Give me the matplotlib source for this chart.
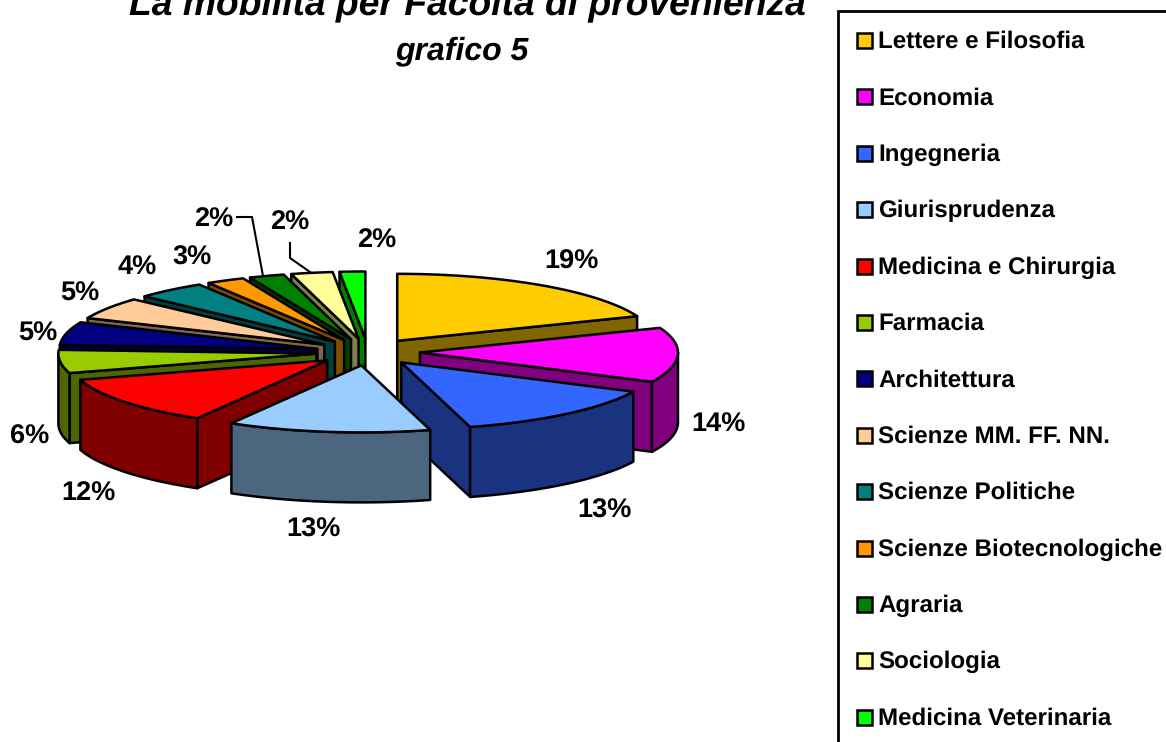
# plot.py
# Torta 3D esplosa "La mobilita per Facolta di provenienza", disegnata a mano
# con poligoni perche matplotlib non ha un vero pie 3D.

import numpy as np
import matplotlib
matplotlib.use("Agg")
import matplotlib.pyplot as plt
from matplotlib.patches import Rectangle

plt.rcParams["text.hinting"] = "no_hinting"

facolta = ["Lettere e Filosofia", "Economia", "Ingegneria", "Giurisprudenza",
           "Medicina e Chirurgia", "Farmacia", "Architettura",
           "Scienze MM. FF. NN.", "Scienze Politiche", "Scienze Biotecnologiche",
           "Agraria", "Sociologia", "Medicina Veterinaria"]
# ampiezze stimate dal disegno, le etichette sono quelle stampate sul grafico
valori = [19, 13.2, 13.5, 12.7, 11.9, 5.6, 5.6, 5.3, 4.4, 2.4, 2.2, 2.6, 1.6]
etichette = ["19%", "14%", "13%", "13%", "12%", "6%", "5%", "5%", "4%", "3%", "2%", "2%", "2%"]

colori = ["#FFCC00", "#FF00FF", "#3366FF", "#99CCFF", "#FF0000", "#99CC00", "#000080",
          "#FFCC99", "#008080", "#FF9900", "#008000", "#FFFF99", "#00FF00"]
colori_lato = ["#806600", "#800080", "#1A3380", "#4D6680", "#800000", "#4D6600", "#000040",
               "#806650", "#004040", "#804D00", "#004000", "#80804D", "#008000"]

# centro delle etichette percentuali, in pixel
pos_etichette = [(571, 262), (718, 425), (604, 511), (313, 530), (88, 494), (30, 437),
                 (38, 334), (80, 294), (137, 268), (192, 258), (214, 220), (290, 223),
                 (377, 241)]

# geometria della torta, in pixel
CX, CY = 368, 352
RX, RY = 258, 67
ESPLOSO = 52
SPESSORE = 70

fig = plt.figure(figsize=(11.66, 7.42), dpi=100)
ax = fig.add_axes([0, 0, 1, 1])
ax.set_xlim(0, 1166)
ax.set_ylim(742, 0)
ax.axis("off")

FONT = "Liberation Sans"


def bordo(x0, y0, t):
    # t in radianti, in senso orario a partire dalle ore 12
    return x0 + RX * np.sin(t), y0 - RY * np.cos(t)


def disegna_fetta(t0, t1, col, col_lato, z):
    mid = (t0 + t1) / 2
    x0 = CX + ESPLOSO * np.sin(mid)
    y0 = CY - ESPLOSO * RY / RX * np.cos(mid)
    stile = dict(edgecolor="black", linewidth=1.8, joinstyle="round", zorder=z)

    # faccia radiale visibile
    if t1 < np.pi:
        xe, ye = bordo(x0, y0, t1)
    elif t0 > np.pi:
        xe, ye = bordo(x0, y0, t0)
    else:
        xe = None
    if xe is not None:
        ax.fill([x0, xe, xe, x0], [y0, ye, ye + SPESSORE, y0 + SPESSORE],
                facecolor=col_lato, **stile)

    # lato esterno, solo la parte tra le ore 3 e le ore 9
    a = max(t0, np.pi / 2)
    b = min(t1, 3 * np.pi / 2)
    if a < b:
        t = np.linspace(a, b, 60)
        xs, ys = bordo(x0, y0, t)
        ax.fill(np.r_[xs, xs[::-1]], np.r_[ys, ys[::-1] + SPESSORE],
                facecolor=col_lato, **stile)

    # faccia superiore
    t = np.linspace(t0, t1, 80)
    xs, ys = bordo(x0, y0, t)
    ax.fill(np.r_[x0, xs], np.r_[y0, ys], facecolor=col, **stile)


angoli = np.r_[0, np.cumsum(valori)] / sum(valori) * 2 * np.pi
medi = (angoli[:-1] + angoli[1:]) / 2

# prima le fette lontane, poi quelle davanti
ordine = sorted(range(len(valori)), key=lambda i: -abs(medi[i] - np.pi))
for z, i in enumerate(ordine):
    disegna_fetta(angoli[i], angoli[i + 1], colori[i], colori_lato[i], 2 + z)

# linee guida delle due etichette spostate
ax.plot([237, 252, 263], [217, 217, 276], color="black", lw=1.5, zorder=30)
ax.plot([290, 290, 310], [243, 258, 272], color="black", lw=1.5, zorder=30)

for testo, (x, y) in zip(etichette, pos_etichette):
    ax.text(x, y, testo, ha="center", va="center", fontsize=19.5, fontweight="bold",
            family=FONT, zorder=40)

# titolo, tagliato in alto come nell'originale
ax.text(467, 14, "La mobilità per Facoltà di provenienza", ha="center", va="baseline",
        fontsize=26.8, fontweight="bold", style="italic", family=FONT)
ax.text(462, 59, "grafico 5", ha="center", va="baseline",
        fontsize=23, fontweight="bold", style="italic", family=FONT)

# legenda: il riquadro esce dalla figura a destra e in basso
ax.add_patch(Rectangle((838, 11), 500, 900, facecolor="white", edgecolor="black", linewidth=2))
righe = 40 + 56.4 * np.arange(len(facolta))
for nome, col, y in zip(facolta, colori, righe):
    ax.add_patch(Rectangle((857, y - 7), 15, 15, facecolor=col, edgecolor="black", linewidth=1.8))
    ax.text(878, y + 8, nome, ha="left", va="baseline", fontsize=17.4, fontweight="bold", family=FONT)

fig.savefig("out.png", dpi=100)
